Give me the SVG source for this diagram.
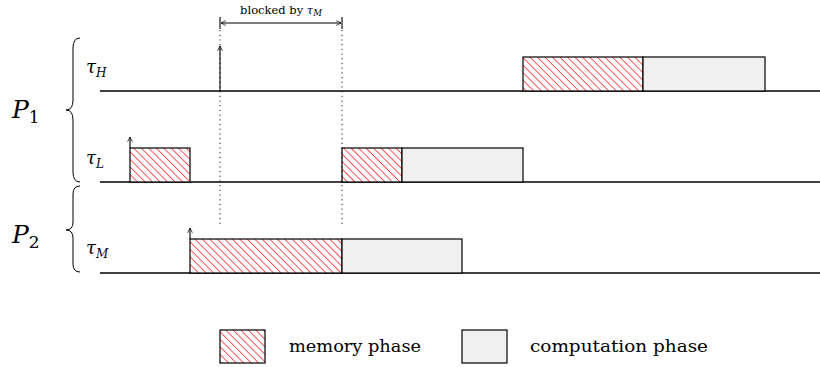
<svg xmlns="http://www.w3.org/2000/svg" width="820" height="367" viewBox="0 0 820 367">
<style>
.base{stroke:#000;stroke-width:1.3;fill:none}
.mem{fill:url(#hatch);stroke:#000;stroke-width:1.2}
.comp{fill:#f0f0f0;stroke:#000;stroke-width:1.2}
.dot{stroke:#000;stroke-width:0.9;stroke-dasharray:1.2 3.5;fill:none}
.arr{stroke:#000;stroke-width:1.1;fill:none}
.brace{stroke:#000;stroke-width:1;fill:none}
</style>
<defs>
<pattern id="hatch" patternUnits="userSpaceOnUse" width="5.3" height="5.3" patternTransform="rotate(-45)">
<rect width="5.3" height="5.3" fill="#fff"/>
<line x1="0" y1="0" x2="0" y2="5.3" stroke="#f00" stroke-width="1.3"/>
</pattern>
<marker id="open" viewBox="0 0 10 10" refX="9" refY="5" markerWidth="6" markerHeight="6" orient="auto-start-reverse" markerUnits="userSpaceOnUse">
<path d="M1,1 L9,5 L1,9" fill="none" stroke="#000" stroke-width="1.2"/>
</marker>
</defs>

<g id="labels" font-family="'DejaVu Serif', serif" font-style="italic" fill="#000">
<text x="12" y="118" font-size="25">P<tspan font-style="normal" font-size="17" dy="5">1</tspan></text>
<text x="12" y="243" font-size="25">P<tspan font-style="normal" font-size="17" dy="5">2</tspan></text>
<text x="86" y="73" font-size="18">τ<tspan font-size="12" dy="4">H</tspan></text>
<text x="86" y="164" font-size="18">τ<tspan font-size="12" dy="4">L</tspan></text>
<text x="86" y="254" font-size="18">τ<tspan font-size="12" dy="4">M</tspan></text>
</g>

<g id="braces">
<path class="brace" d="M80,38 Q73,38 73,48 L73,100 Q73,110 66,110 Q73,110 73,120 L73,172 Q73,182 80,182"/>
<path class="brace" d="M80,186 Q73,186 73,194 L73,222 Q73,230 66,230 Q73,230 73,238 L73,264 Q73,272 80,272"/>
</g>

<g id="timelines">
<line class="base" x1="100" y1="91" x2="820" y2="91"/>
<line class="base" x1="100" y1="182" x2="820" y2="182"/>
<line class="base" x1="100" y1="273" x2="820" y2="273"/>
</g>

<g id="tauH">
<rect class="mem" x="523" y="57" width="120" height="34"/>
<rect class="comp" x="643" y="57" width="122" height="34"/>
</g>
<g id="tauL">
<rect class="mem" x="130" y="148" width="60" height="34"/>
<rect class="mem" x="342" y="148" width="60" height="34"/>
<rect class="comp" x="402" y="148" width="121" height="34"/>
</g>
<g id="tauM">
<rect class="mem" x="190" y="239" width="152" height="34"/>
<rect class="comp" x="342" y="239" width="120" height="34"/>
</g>

<g id="connectors">
<line class="arr" x1="220" y1="91" x2="220" y2="46" marker-end="url(#open)"/>
<line class="arr" x1="130" y1="148" x2="130" y2="137" marker-end="url(#open)"/>
<line class="arr" x1="190" y1="239" x2="190" y2="228" marker-end="url(#open)"/>
<line class="dot" x1="220" y1="30" x2="220" y2="225"/>
<line class="dot" x1="342" y1="30" x2="342" y2="225"/>
<line class="arr" x1="221" y1="23" x2="341" y2="23" marker-start="url(#open)" marker-end="url(#open)"/>
<line class="arr" x1="220" y1="17" x2="220" y2="29"/>
<line class="arr" x1="342" y1="17" x2="342" y2="29"/>
</g>
<g id="blocked-label" font-family="'DejaVu Serif', serif" fill="#000">
<text x="281" y="14" font-size="11.5" text-anchor="middle">blocked by <tspan font-style="italic">τ</tspan><tspan font-style="italic" font-size="8.5" dy="2">M</tspan></text>
</g>

<g id="legend" font-family="'DejaVu Serif', serif" fill="#000">
<rect class="mem" x="220" y="330" width="45" height="33"/>
<text x="289" y="352" font-size="17.5" textLength="132" lengthAdjust="spacingAndGlyphs">memory phase</text>
<rect class="comp" x="462" y="330" width="45" height="33"/>
<text x="530" y="352" font-size="17.5" textLength="178" lengthAdjust="spacingAndGlyphs">computation phase</text>
</g>
</svg>
